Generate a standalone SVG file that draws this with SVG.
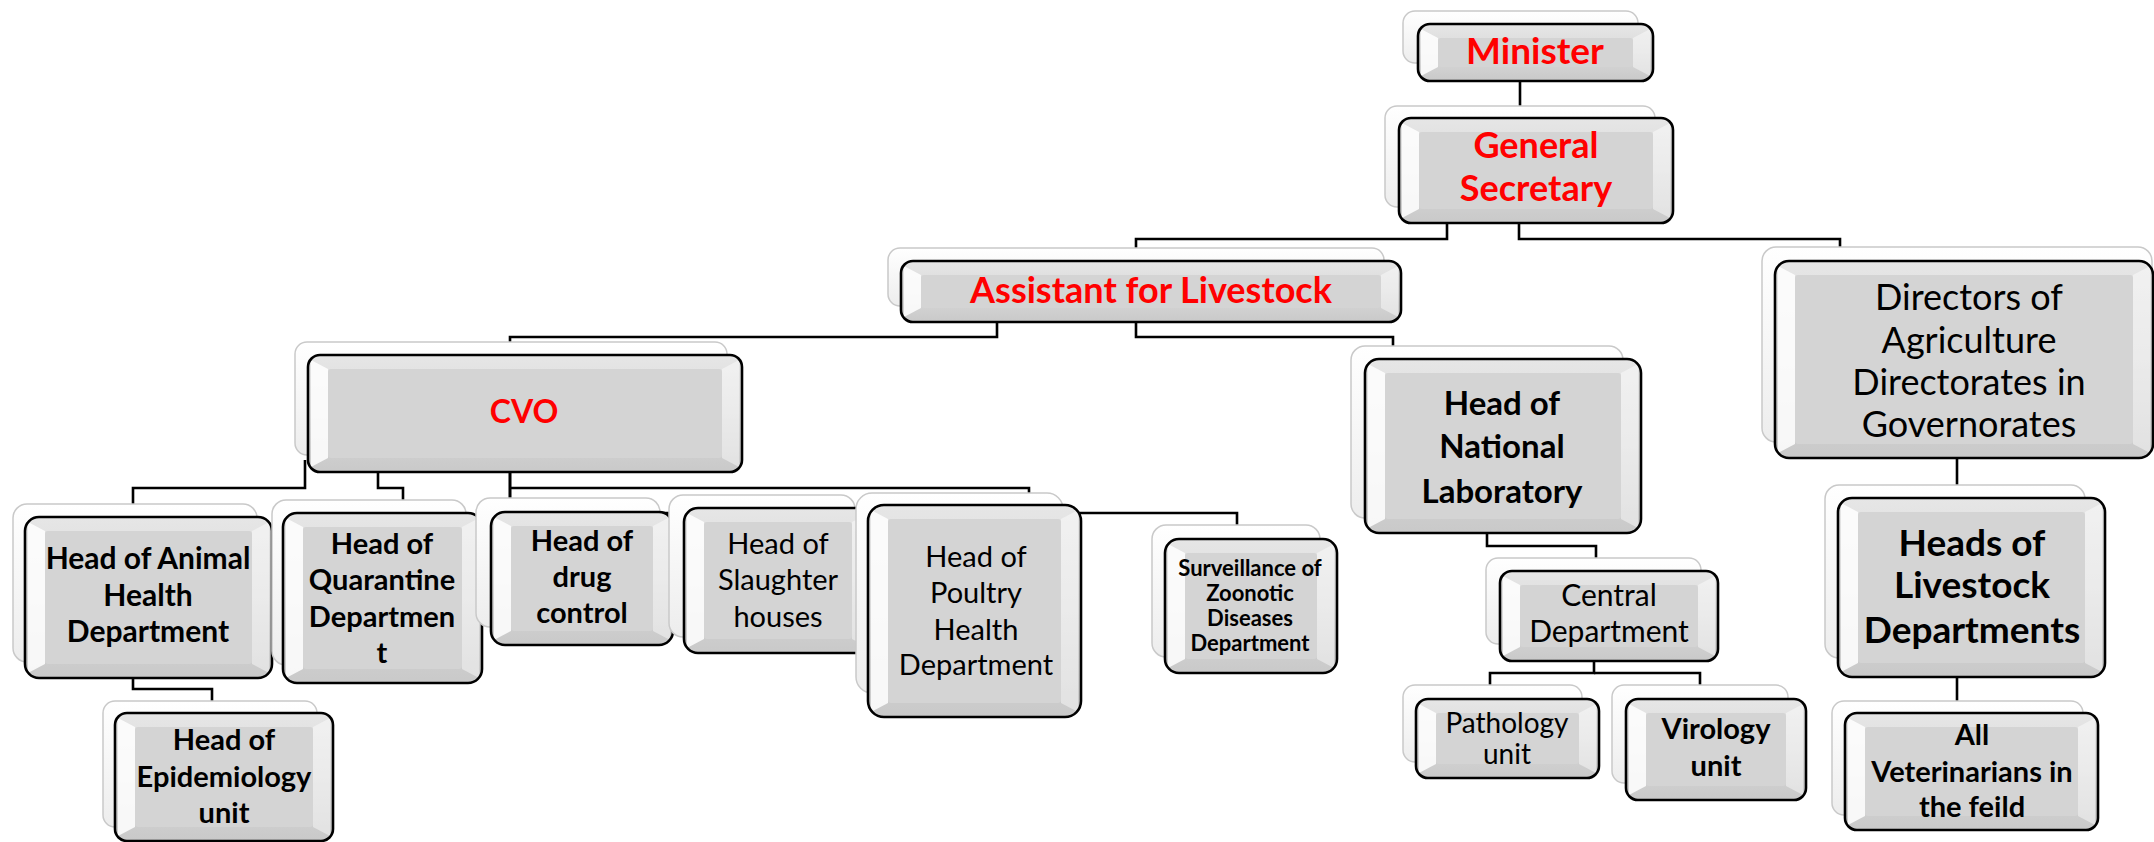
<svg xmlns="http://www.w3.org/2000/svg" width="2154" height="842" viewBox="0 0 2154 842">
<defs>
<linearGradient id="gf" x1="0" y1="0" x2="0" y2="1"><stop offset="0" stop-color="#e6e6e6"/><stop offset="0.5" stop-color="#dadada"/><stop offset="1" stop-color="#c9c9c9"/></linearGradient>
<linearGradient id="gb" x1="0" y1="0" x2="0" y2="1"><stop offset="0" stop-color="#ffffff"/><stop offset="1" stop-color="#ededed"/></linearGradient>
<style>
.bk{fill:url(#gb);stroke:#c9c9c9;stroke-width:1.5}
.fr{fill:url(#gf)}
.in{fill:#d4d4d4}
.lb{fill:#fff;opacity:.85}
.rb{fill:#fff;opacity:.45}
.ol{fill:none;stroke:#000;stroke-width:2.6}
.t{font-family:Lato,"Liberation Sans",sans-serif;text-anchor:middle;fill:#000}
.b{font-weight:700}
.r{fill:#ff0000}
.s37{font-size:37px}.s36{font-size:36px}.s33{font-size:33px}.s32{font-size:32px}.s30{font-size:30px}.s29{font-size:29px}.s28{font-size:28px}.s22{font-size:22px}
.cn path{fill:none;stroke:#000;stroke-width:2.6}
</style>
</defs>
<rect width="2154" height="842" fill="#fff"/>
<g class="cn">
<path d="M1520,81 V118"/>
<path d="M1447,223 V239 H1136 V261"/>
<path d="M1519,223 V239 H1840 V261"/>
<path d="M997,322 V337 H510 V355"/>
<path d="M1136,322 V337 H1393 V359"/>
<path d="M305,460 V488 H133 V517"/>
<path d="M378,472 V488 H403 V513"/>
<path d="M510,472 V512"/>
<path d="M510,488 H1029 V505"/>
<path d="M510,472 V513 H1237 V539"/>
<path d="M133,678 V689 H212 V713"/>
<path d="M1487,533 V546 H1596 V571"/>
<path d="M1594,661 V673 H1490 V699"/>
<path d="M1594,673 H1700 V699"/>
<path d="M1957,458 V498"/>
<path d="M1957,677 V713"/>
</g>

<g id="minister" transform="translate(1418,24)">
<rect class="bk" x="-15" y="-13" width="235" height="52" rx="12"/>
<rect class="fr" width="235" height="57" rx="12"/>
<rect class="in" x="20" y="14" width="195" height="29" rx="3"/>
<path class="lb" d="M3,5 L20,14 V43 L3,52 Z"/>
<path class="rb" d="M232,5 L215,14 V43 L232,52 Z"/>
<rect class="ol" width="235" height="57" rx="12"/>
<text class="t b r s37" x="117" y="40">Minister</text>
</g>

<g id="general-secretary" transform="translate(1399,118)">
<rect class="bk" x="-14" y="-12" width="270" height="101" rx="12"/>
<rect class="fr" width="274" height="105" rx="12"/>
<rect class="in" x="20" y="14" width="234" height="77" rx="3"/>
<path class="lb" d="M3,5 L20,14 V91 L3,100 Z"/>
<path class="rb" d="M271,5 L254,14 V91 L271,100 Z"/>
<rect class="ol" width="274" height="105" rx="12"/>
<text class="t b r s36" x="137" y="40">General</text>
<text class="t b r s36" x="137" y="83">Secretary</text>
</g>

<g id="assistant" transform="translate(901,261)">
<rect class="bk" x="-13" y="-13" width="496" height="58" rx="12"/>
<rect class="fr" width="500" height="61" rx="12"/>
<rect class="in" x="20" y="14" width="460" height="33" rx="3"/>
<path class="lb" d="M3,5 L20,14 V47 L3,56 Z"/>
<path class="rb" d="M497,5 L480,14 V47 L497,56 Z"/>
<rect class="ol" width="500" height="61" rx="12"/>
<text class="t b r s36" x="250" y="42">Assistant for Livestock</text>
</g>

<g id="directors" transform="translate(1775,261)">
<rect class="bk" x="-13" y="-14" width="390" height="195" rx="14"/>
<rect class="fr" width="378" height="197" rx="14"/>
<rect class="in" x="20" y="14" width="338" height="169" rx="3"/>
<path class="lb" d="M3,5 L20,14 V183 L3,192 Z"/>
<path class="rb" d="M375,5 L358,14 V183 L375,192 Z"/>
<rect class="ol" width="378" height="197" rx="14"/>
<text class="t s36" x="194" y="49">Directors of</text>
<text class="t s36" x="194" y="92">Agriculture</text>
<text class="t s36" x="194" y="134">Directorates in</text>
<text class="t s36" x="194" y="176">Governorates</text>
</g>

<g id="cvo" transform="translate(308,355)">
<rect class="bk" x="-13" y="-13" width="432" height="113" rx="12"/>
<rect class="fr" width="434" height="117" rx="12"/>
<rect class="in" x="20" y="14" width="394" height="89" rx="3"/>
<path class="lb" d="M3,5 L20,14 V103 L3,112 Z"/>
<path class="rb" d="M431,5 L414,14 V103 L431,112 Z"/>
<rect class="ol" width="434" height="117" rx="12"/>
<text class="t b r s32" x="216" y="68">CVO</text>
</g>

<g id="national-laboratory" transform="translate(1365,359)">
<rect class="bk" x="-14" y="-13" width="272" height="172" rx="14"/>
<rect class="fr" width="276" height="174" rx="14"/>
<rect class="in" x="20" y="14" width="236" height="146" rx="3"/>
<path class="lb" d="M3,5 L20,14 V160 L3,169 Z"/>
<path class="rb" d="M273,5 L256,14 V160 L273,169 Z"/>
<rect class="ol" width="276" height="174" rx="14"/>
<text class="t b s33" x="137" y="56">Head of</text>
<text class="t b s33" x="137" y="99">National</text>
<text class="t b s33" x="137" y="144">Laboratory</text>
</g>

<g id="central-department" transform="translate(1500,571)">
<rect class="bk" x="-14" y="-13" width="215" height="86" rx="12"/>
<rect class="fr" width="218" height="90" rx="12"/>
<rect class="in" x="20" y="14" width="178" height="62" rx="3"/>
<path class="lb" d="M3,5 L20,14 V76 L3,85 Z"/>
<path class="rb" d="M215,5 L198,14 V76 L215,85 Z"/>
<rect class="ol" width="218" height="90" rx="12"/>
<text class="t s30" x="109" y="35">Central</text>
<text class="t s30" x="109" y="71">Department</text>
</g>

<g id="pathology" transform="translate(1416,699)">
<rect class="bk" x="-13" y="-14" width="179" height="77" rx="12"/>
<rect class="fr" width="183" height="79" rx="12"/>
<rect class="in" x="20" y="14" width="143" height="51" rx="3"/>
<path class="lb" d="M3,5 L20,14 V65 L3,74 Z"/>
<path class="rb" d="M180,5 L163,14 V65 L180,74 Z"/>
<rect class="ol" width="183" height="79" rx="12"/>
<text class="t s28" x="91" y="34">Pathology</text>
<text class="t s28" x="91" y="65">unit</text>
</g>

<g id="virology" transform="translate(1626,699)">
<rect class="bk" x="-14" y="-14" width="176" height="98" rx="12"/>
<rect class="fr" width="180" height="101" rx="12"/>
<rect class="in" x="20" y="14" width="140" height="73" rx="3"/>
<path class="lb" d="M3,5 L20,14 V87 L3,96 Z"/>
<path class="rb" d="M177,5 L160,14 V87 L177,96 Z"/>
<rect class="ol" width="180" height="101" rx="12"/>
<text class="t b s29" x="90" y="40">Virology</text>
<text class="t b s29" x="90" y="77">unit</text>
</g>

<g id="animal-health" transform="translate(25,517)">
<rect class="bk" x="-12" y="-13" width="244" height="158" rx="14"/>
<rect class="fr" width="247" height="161" rx="14"/>
<rect class="in" x="20" y="14" width="207" height="133" rx="3"/>
<path class="lb" d="M3,5 L20,14 V147 L3,156 Z"/>
<path class="rb" d="M244,5 L227,14 V147 L244,156 Z"/>
<rect class="ol" width="247" height="161" rx="14"/>
<text class="t b s30" x="123" y="52">Head of Animal</text>
<text class="t b s30" x="123" y="89">Health</text>
<text class="t b s30" x="123" y="125">Department</text>
</g>

<g id="quarantine" transform="translate(283,513)">
<rect class="bk" x="-11" y="-13" width="194" height="165" rx="14"/>
<rect class="fr" width="199" height="170" rx="14"/>
<rect class="in" x="20" y="14" width="159" height="142" rx="3"/>
<path class="lb" d="M3,5 L20,14 V156 L3,165 Z"/>
<path class="rb" d="M196,5 L179,14 V156 L196,165 Z"/>
<rect class="ol" width="199" height="170" rx="14"/>
<text class="t b s29" x="99" y="41">Head of</text>
<text class="t b s29" x="99" y="77">Quarantine</text>
<text class="t b s29" x="99" y="114">Departmen</text>
<text class="t b s29" x="99" y="150">t</text>
</g>

<g id="drug-control" transform="translate(491,512)">
<rect class="bk" x="-15" y="-14" width="184" height="129" rx="14"/>
<rect class="fr" width="182" height="133" rx="14"/>
<rect class="in" x="20" y="14" width="142" height="105" rx="3"/>
<path class="lb" d="M3,5 L20,14 V119 L3,128 Z"/>
<path class="rb" d="M179,5 L162,14 V119 L179,128 Z"/>
<rect class="ol" width="182" height="133" rx="14"/>
<text class="t b s29" x="91" y="39">Head of</text>
<text class="t b s29" x="91" y="75">drug</text>
<text class="t b s29" x="91" y="111">control</text>
</g>

<g id="slaughter-houses" transform="translate(684,508)">
<rect class="bk" x="-15" y="-13" width="186" height="142" rx="14"/>
<rect class="fr" width="188" height="145" rx="14"/>
<rect class="in" x="20" y="14" width="148" height="117" rx="3"/>
<path class="lb" d="M3,5 L20,14 V131 L3,140 Z"/>
<path class="rb" d="M185,5 L168,14 V131 L185,140 Z"/>
<rect class="ol" width="188" height="145" rx="14"/>
<text class="t s29" x="94" y="46">Head of</text>
<text class="t s29" x="94" y="82">Slaughter</text>
<text class="t s29" x="94" y="119">houses</text>
</g>

<g id="poultry-health" transform="translate(868,505)">
<rect class="bk" x="-12" y="-12" width="207" height="200" rx="16"/>
<rect class="fr" width="213" height="212" rx="16"/>
<rect class="in" x="20" y="14" width="173" height="184" rx="3"/>
<path class="lb" d="M3,5 L20,14 V198 L3,207 Z"/>
<path class="rb" d="M210,5 L193,14 V198 L210,207 Z"/>
<rect class="ol" width="213" height="212" rx="16"/>
<text class="t s29" x="108" y="62">Head of</text>
<text class="t s29" x="108" y="98">Poultry</text>
<text class="t s29" x="108" y="135">Health</text>
<text class="t s29" x="108" y="170">Department</text>
</g>

<g id="surveillance" transform="translate(1165,539)">
<rect class="bk" x="-13" y="-14" width="168" height="132" rx="14"/>
<rect class="fr" width="172" height="134" rx="14"/>
<rect class="in" x="20" y="14" width="132" height="106" rx="3"/>
<path class="lb" d="M3,5 L20,14 V120 L3,129 Z"/>
<path class="rb" d="M169,5 L152,14 V120 L169,129 Z"/>
<rect class="ol" width="172" height="134" rx="14"/>
<text class="t b s22" x="85" y="37">Surveillance of</text>
<text class="t b s22" x="85" y="62">Zoonotic</text>
<text class="t b s22" x="85" y="87">Diseases</text>
<text class="t b s22" x="85" y="112">Department</text>
</g>

<g id="heads-livestock" transform="translate(1838,498)">
<rect class="bk" x="-13" y="-13" width="260" height="173" rx="14"/>
<rect class="fr" width="267" height="179" rx="14"/>
<rect class="in" x="20" y="14" width="227" height="151" rx="3"/>
<path class="lb" d="M3,5 L20,14 V165 L3,174 Z"/>
<path class="rb" d="M264,5 L247,14 V165 L264,174 Z"/>
<rect class="ol" width="267" height="179" rx="14"/>
<text class="t b s37" x="134" y="58">Heads of</text>
<text class="t b s37" x="134" y="100">Livestock</text>
<text class="t b s37" x="134" y="145">Departments</text>
</g>

<g id="all-veterinarians" transform="translate(1845,713)">
<rect class="bk" x="-13" y="-12" width="251" height="114" rx="12"/>
<rect class="fr" width="253" height="117" rx="12"/>
<rect class="in" x="20" y="14" width="213" height="89" rx="3"/>
<path class="lb" d="M3,5 L20,14 V103 L3,112 Z"/>
<path class="rb" d="M250,5 L233,14 V103 L250,112 Z"/>
<rect class="ol" width="253" height="117" rx="12"/>
<text class="t b s29" x="127" y="32">All</text>
<text class="t b s29" x="127" y="69">Veterinarians in</text>
<text class="t b s29" x="127" y="104">the feild</text>
</g>

<g id="epidemiology" transform="translate(115,713)">
<rect class="bk" x="-12" y="-12" width="214" height="126" rx="12"/>
<rect class="fr" width="218" height="128" rx="12"/>
<rect class="in" x="20" y="14" width="178" height="100" rx="3"/>
<path class="lb" d="M3,5 L20,14 V114 L3,123 Z"/>
<path class="rb" d="M215,5 L198,14 V114 L215,123 Z"/>
<rect class="ol" width="218" height="128" rx="12"/>
<text class="t b s29" x="109" y="37">Head of</text>
<text class="t b s29" x="109" y="74">Epidemiology</text>
<text class="t b s29" x="109" y="110">unit</text>
</g>
</svg>
